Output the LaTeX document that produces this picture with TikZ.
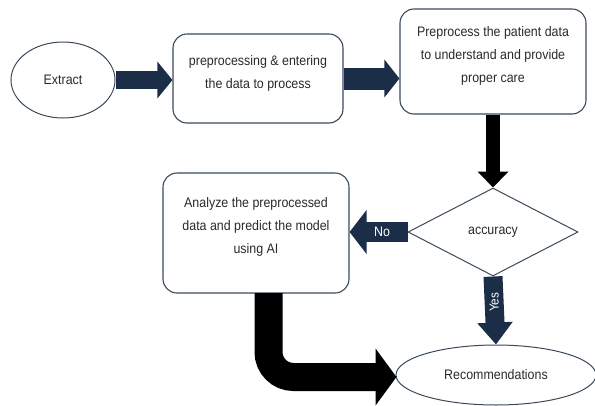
\documentclass[tikz,border=0pt]{standalone}
\usepackage{fontspec}
\setmainfont[FakeStretch=0.9]{Liberation Sans}
\usetikzlibrary{shapes.geometric,arrows.meta,calc}
\definecolor{navy}{HTML}{1C2D47}
\definecolor{edgec}{HTML}{3A4A5A}
\definecolor{txt}{HTML}{2A2A2A}
\begin{document}
\begin{tikzpicture}[x=1pt,y=-1pt,
  font=\fontsize{13.8}{23}\selectfont,
  box/.style={draw=edgec, line width=1.1pt, rounded corners=14pt, fill=white, inner sep=0pt},
  oval/.style={ellipse, draw=edgec, line width=1pt, inner sep=0pt, fill=white},
  dia/.style={diamond, draw=edgec, line width=1pt, inner sep=0pt, fill=white},
  lbl/.style={align=center, text=txt, inner sep=0pt},
  wlbl/.style={text=white, inner sep=0pt}]
\useasboundingbox (0,0) rectangle (595,405);

% shapes
\node[oval, minimum width=104pt, minimum height=76pt] (ext) at (63,80) {};
\node[lbl] at (ext.center) {Extract};

\node[box, minimum width=170pt, minimum height=89pt] (b1) at (258,78.5) {};
\node[lbl] at (258,73.5) {preprocessing \& entering\\the data to process};

\node[box, minimum width=186pt, minimum height=105pt] (b2) at (493,61.5) {};
\node[lbl] at (493,56) {Preprocess the patient data\\to understand and provide\\proper care};

\node[dia, minimum width=170pt, minimum height=88pt] (acc) at (493,232) {};
\node[lbl] at (acc.center) {accuracy};

\node[box, minimum width=186pt, minimum height=120pt] (b3) at (256,233) {};
\node[lbl] at (256,227) {Analyze the preprocessed\\data and predict the model\\using AI};

\node[oval, minimum width=200pt, minimum height=60pt] (rec) at (496,375) {};
\node[lbl] at (rec.center) {Recommendations};

% connectors
\draw[navy, line width=18pt, -{Triangle[length=15pt,width=36pt]}]
  (ext.east) -- (ext.east -| b1.west);
\draw[navy, line width=22pt, -{Triangle[length=15pt,width=37pt]}]
  (b1.east) -- (b1.east -| b2.west);
\draw[black, line width=14pt, -{Triangle[length=16pt,width=30pt]}]
  (b2.south) -- (acc.north);
\draw[navy, line width=20pt, -{Triangle[length=17pt,width=43pt]}]
  (acc.west) -- (acc.west -| b3.east)
  node[wlbl, pos=0.44] {No};
\draw[navy, line width=19pt, -{Triangle[length=22pt,width=34pt]}]
  (acc.south) -- (rec.north)
  node[wlbl, pos=0.38, rotate=90, font=\fontsize{13}{14}\selectfont] {Yes};
\coordinate (recin) at ($(rec.west)+(1,2)$);
\draw[black, line width=28pt, rounded corners=25pt, -{Triangle[length=21pt,width=56pt]}]
  ($(b3.south)+(12.5,-0.5)$) |- (recin);
\end{tikzpicture}
\end{document}
